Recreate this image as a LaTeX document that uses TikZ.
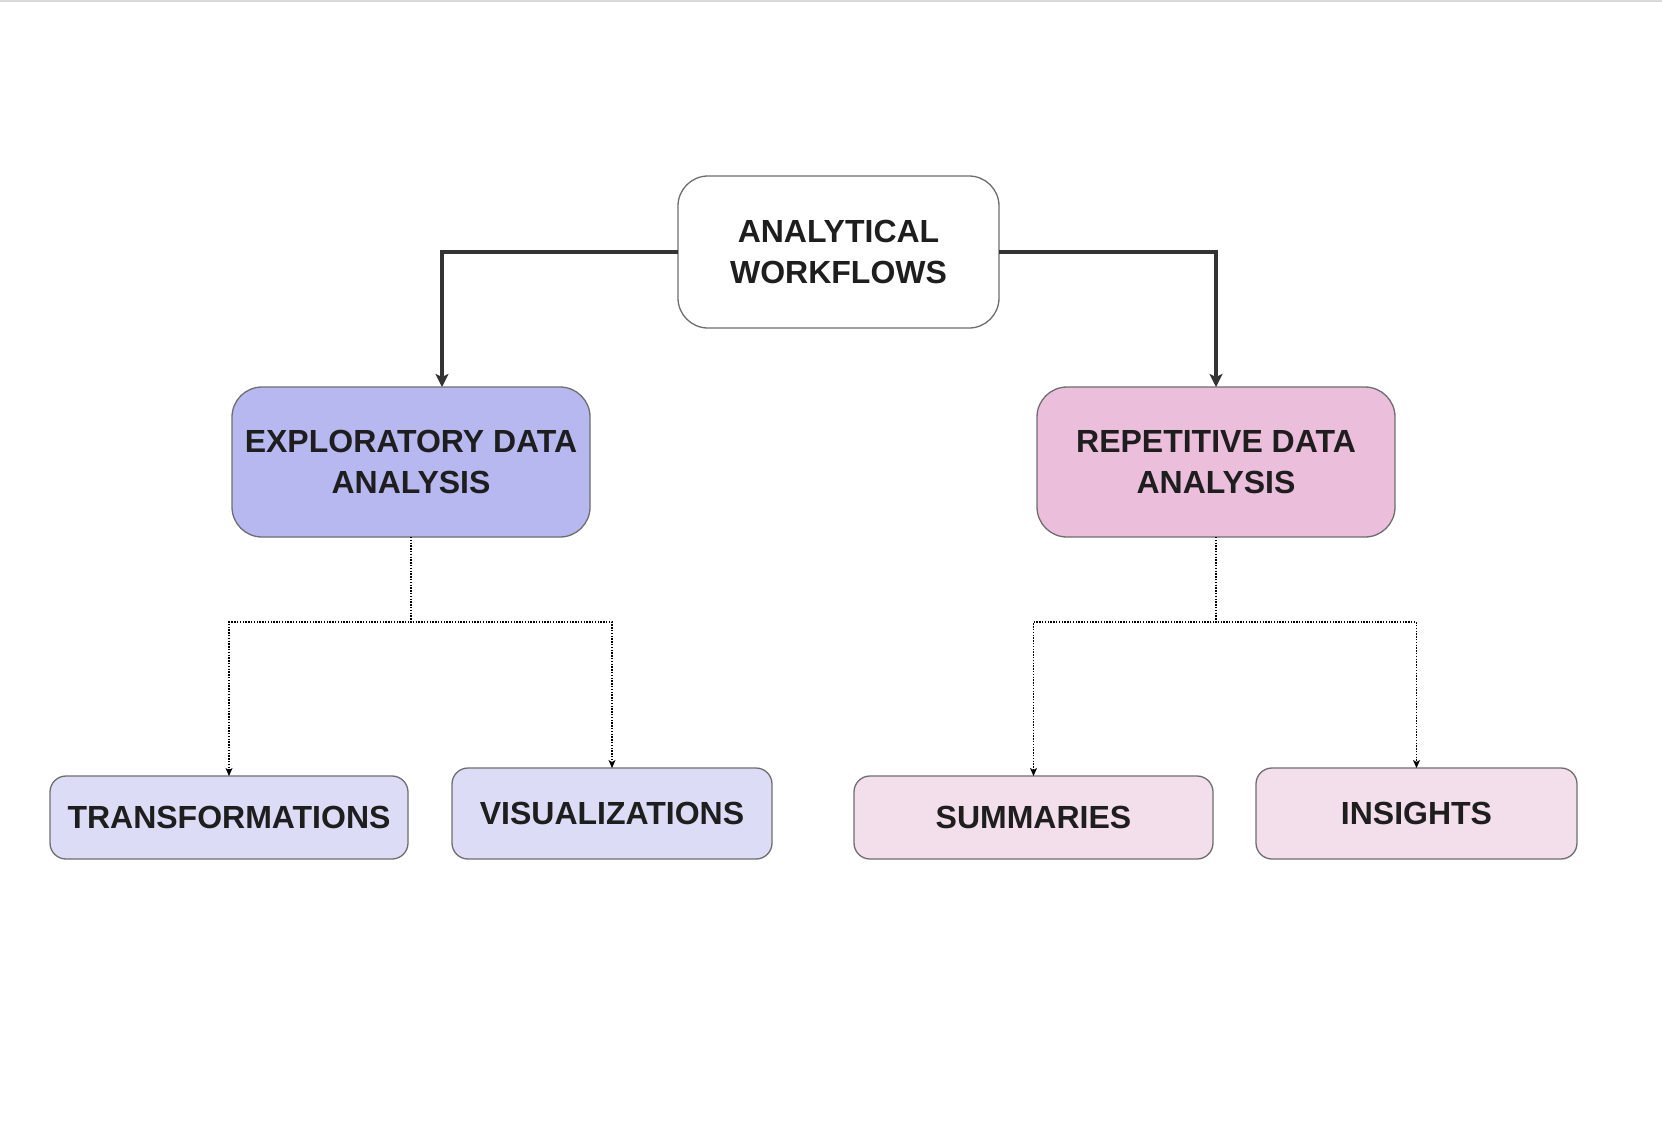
\documentclass[tikz,border=0pt]{standalone}
\usepackage{fontspec}
\setmainfont{Liberation Sans}
\usetikzlibrary{arrows.meta}
\definecolor{edafill}{HTML}{B8B8F0}
\definecolor{edalight}{HTML}{DCDCF7}
\definecolor{rdafill}{HTML}{EBBEDC}
\definecolor{rdalight}{HTML}{F3DEEC}
\definecolor{boxline}{HTML}{6E6E6E}
\definecolor{txt}{HTML}{1E1E1E}
\definecolor{arr}{HTML}{333333}
\tikzset{
  box/.style={draw=boxline, line width=1.3pt, inner sep=0pt, outer sep=0pt, align=center,
    text=txt, font=\fontsize{32}{41}\selectfont\bfseries},
  bigbox/.style={box, rounded corners=30pt},
  smallbox/.style={box, rounded corners=16pt},
  mainarrow/.style={draw=arr, line width=3.2pt, -{Stealth[length=13pt,width=13pt,inset=3pt]}},
  dotarrow/.style={draw=black, line width=1.1pt, dash pattern=on 1.4pt off 1.4pt,
    -{Stealth[length=8pt,width=7pt,inset=2pt]}}
}
\begin{document}
\begin{tikzpicture}[x=1pt,y=-1pt]
\useasboundingbox (0,0) rectangle (1662,1120);
\fill[white] (0,0) rectangle (1662,1120);
\fill[gray!30] (0,0) rectangle (1662,2);
\node[bigbox, fill=white, minimum width=321pt, minimum height=152pt] (top) at (838.5,252) {ANALYTICAL\\WORKFLOWS};
\node[bigbox, fill=edafill, minimum width=358pt, minimum height=150pt] (eda) at (411,462) {EXPLORATORY DATA\\ANALYSIS};
\node[bigbox, fill=rdafill, minimum width=358pt, minimum height=150pt] (rda) at (1216,462) {REPETITIVE DATA\\ANALYSIS};
\node[smallbox, fill=edalight, minimum width=358pt, minimum height=83pt] (trans) at (229,817.5) {TRANSFORMATIONS};
\node[smallbox, fill=edalight, minimum width=320pt, minimum height=91pt] (vis) at (612,813.5) {VISUALIZATIONS};
\node[smallbox, fill=rdalight, minimum width=359pt, minimum height=83pt] (summ) at (1033.5,817.5) {SUMMARIES};
\node[smallbox, fill=rdalight, minimum width=321pt, minimum height=91pt] (ins) at (1416.5,813.5) {INSIGHTS};
\draw[mainarrow] (top.west) -| ([xshift=31pt]eda.north);
\draw[mainarrow] (top.east) -| (rda.north);
\draw[dotarrow] (eda.south) -- ++(0,85) -| (trans.north);
\draw[dotarrow] (eda.south) -- ++(0,85) -| (vis.north);
\draw[dotarrow] (rda.south) -- ++(0,85) -| (summ.north);
\draw[dotarrow] (rda.south) -- ++(0,85) -| (ins.north);
\end{tikzpicture}
\end{document}
